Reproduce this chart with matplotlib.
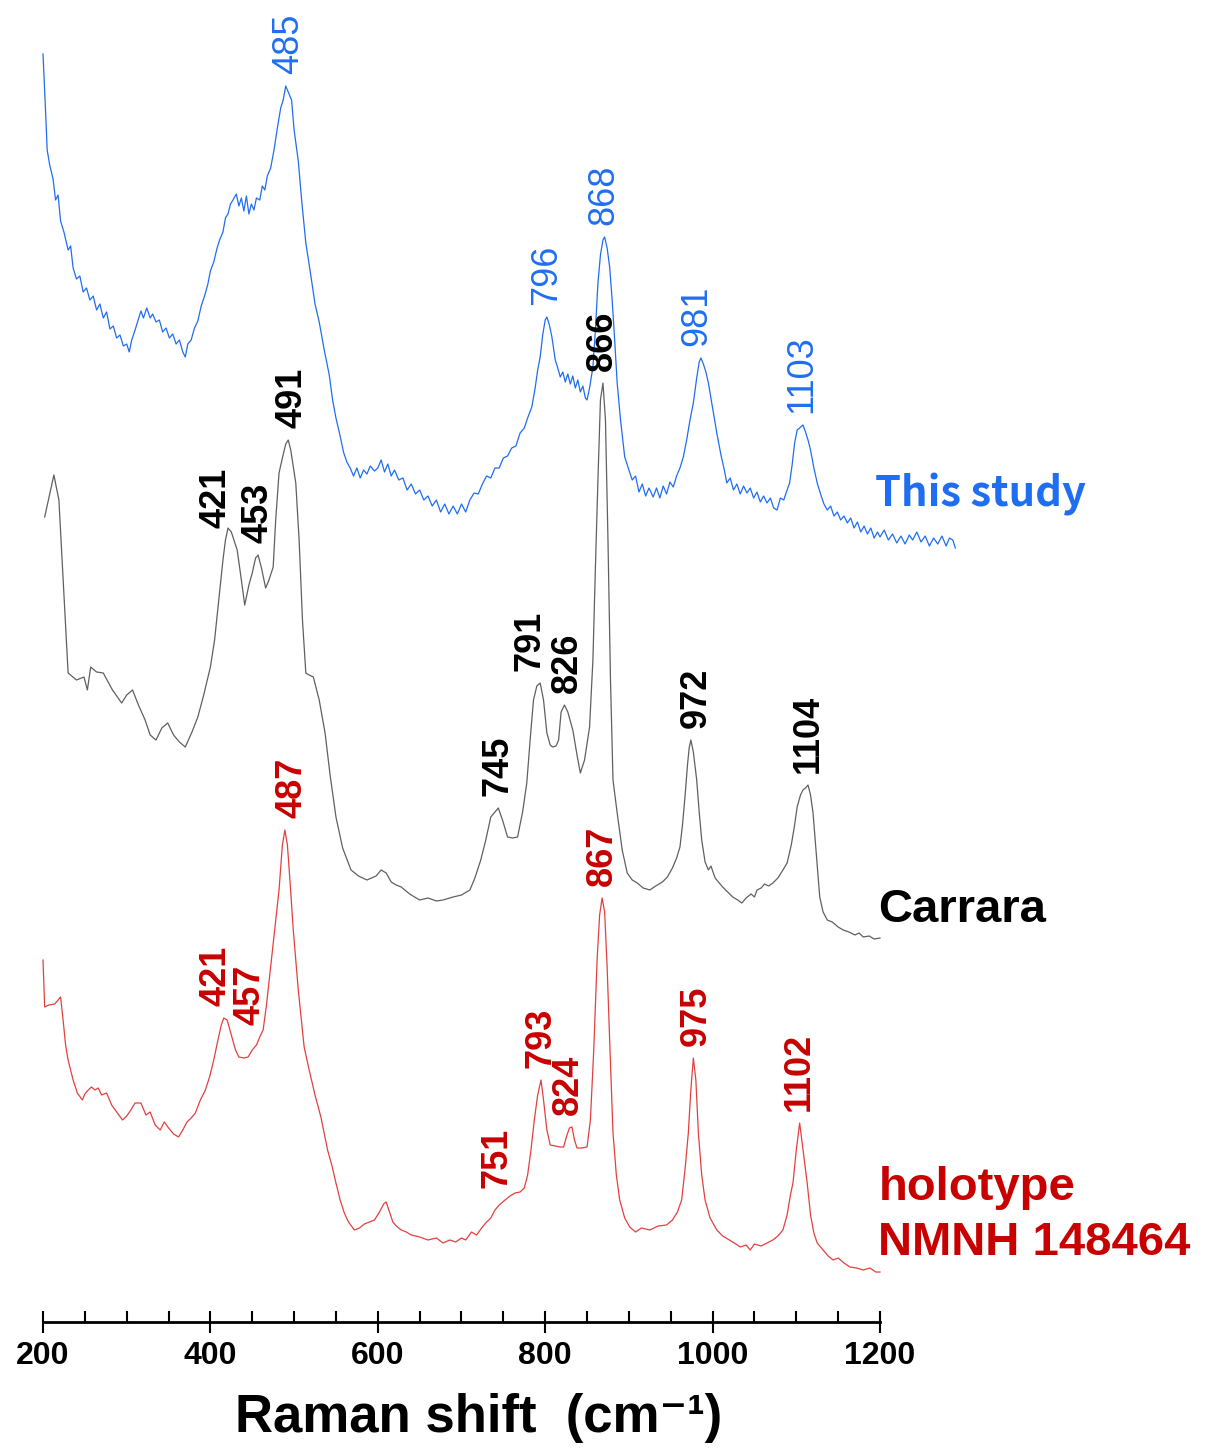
import matplotlib
matplotlib.use("Agg")
import matplotlib.pyplot as plt
from matplotlib.ticker import MultipleLocator

# ---- this study (blue) ----
blue_shift = [200, 203, 205, 208, 212, 215, 218, 221, 225, 230, 233, 236, 240, 244, 248, 252, 256, 260, 264, 268,
              272, 276, 280, 284, 288, 292, 296, 300, 303, 306, 310, 313, 317, 320, 324, 328, 331, 335, 339, 343,
              347, 351, 355, 359, 363, 367, 370, 373, 377, 381, 385, 389, 393, 397, 400, 404, 408, 411, 415, 418,
              421, 424, 427, 431, 434, 437, 440, 443, 446, 449, 452, 455, 459, 462, 465, 468, 472, 476, 480, 484,
              487, 490, 493, 497, 500, 505, 509, 514, 519, 525, 530, 536, 542, 546, 550, 555, 559, 563, 567, 571,
              575, 579, 583, 587, 591, 596, 600, 604, 608, 612, 616, 620, 625, 630, 635, 640, 645, 650, 655, 660,
              665, 670, 675, 680, 685, 690, 695, 700, 705, 710, 715, 720, 725, 730, 735, 740, 745, 750, 755, 760,
              765, 770, 775, 779, 784, 788, 791, 794, 797, 800, 802, 805, 808, 812, 815, 818, 821, 824, 827, 830,
              833, 836, 839, 842, 845, 848, 850, 853, 857, 860, 863, 866, 869, 871, 874, 877, 880, 883, 886, 890,
              895, 900, 904, 908, 912, 916, 920, 924, 929, 933, 937, 941, 945, 949, 953, 957, 961, 965, 969, 973,
              977, 981, 984, 986, 989, 992, 995, 1000, 1005, 1010, 1014, 1017, 1021, 1025, 1029, 1033, 1037, 1041,
              1045, 1049, 1053, 1057, 1061, 1065, 1069, 1073, 1077, 1081, 1085, 1089, 1092, 1095, 1098, 1101, 1104,
              1108, 1111, 1114, 1117, 1121, 1125, 1129, 1133, 1137, 1141, 1145, 1149, 1153, 1157, 1161, 1165, 1169,
              1173, 1177, 1181, 1185, 1189, 1193, 1197, 1200, 1205, 1210, 1215, 1220, 1225, 1230, 1235, 1239, 1244,
              1249, 1254, 1259, 1264, 1269, 1274, 1279, 1283, 1287, 1290]
blue_int = [506, 450, 410, 395, 381, 360, 365, 339, 328, 310, 314, 292, 281, 284, 268, 272, 260, 264, 250, 256,
            242, 248, 231, 234, 222, 225, 214, 216, 208, 220, 230, 238, 249, 242, 252, 242, 246, 238, 240, 228,
            232, 222, 226, 216, 220, 208, 203, 216, 220, 232, 239, 254, 264, 276, 289, 298, 312, 320, 328, 342,
            346, 356, 360, 366, 354, 362, 349, 364, 346, 356, 350, 362, 360, 374, 370, 384, 392, 410, 432, 452,
            460, 474, 468, 460, 430, 399, 360, 317, 290, 256, 238, 210, 185, 160, 142, 124, 108, 98, 92, 84,
            92, 82, 90, 86, 94, 89, 92, 100, 88, 96, 84, 90, 80, 82, 70, 76, 66, 70, 60, 64,
            54, 60, 48, 56, 46, 54, 46, 56, 48, 60, 67, 66, 76, 84, 82, 92, 92, 102, 104, 112,
            114, 127, 132, 142, 153, 172, 190, 203, 225, 240, 243, 235, 223, 200, 192, 183, 188, 178, 186, 176,
            184, 172, 180, 168, 174, 162, 160, 172, 193, 230, 277, 305, 320, 323, 312, 293, 260, 220, 177, 140,
            103, 90, 80, 84, 68, 76, 64, 72, 63, 72, 62, 74, 66, 78, 73, 84, 92, 103, 120, 140,
            157, 182, 198, 202, 196, 188, 177, 152, 127, 105, 90, 77, 82, 70, 76, 66, 74, 67,
            72, 62, 68, 58, 64, 57, 62, 52, 50, 62, 60, 70, 77, 95, 117, 130, 132,
            135, 128, 120, 110, 92, 77, 66, 56, 50, 54, 44, 48, 40, 44, 37, 42, 32,
            38, 28, 34, 26, 32, 22, 28, 23, 30, 20, 26, 17, 24, 16, 25, 20, 28,
            18, 24, 14, 22, 16, 24, 14, 22, 20, 12]
blue_labels = ["485", "796", "868", "981", "1103"]
blue_label_pos = [493, 802, 870, 981, 1107]

# ---- Carrara (grey) ----
carrara_shift = [202, 213, 219, 230, 240, 249, 253, 257, 264, 272, 283, 294, 300, 307, 314, 322, 328, 335, 342, 349,
                 356, 363, 370, 378, 385, 392, 400, 405, 410, 415, 418, 421, 425, 432, 437, 441, 446, 450, 454, 457,
                 461, 466, 470, 475, 478, 482, 486, 490, 493, 496, 502, 506, 510, 514, 518, 523, 530, 537, 543, 550,
                 558, 568, 577, 587, 598, 604, 610, 616, 622, 628, 638, 650, 660, 670, 678, 690, 700, 710, 716, 723,
                 729, 735, 740, 744, 749, 755, 761, 767, 773, 778, 782, 786, 790, 794, 798, 802, 806, 809, 813, 816,
                 819, 823, 827, 833, 838, 842, 847, 853, 857, 860, 863, 866, 869, 872, 875, 878, 881, 886, 892, 898,
                 904, 910, 917, 925, 932, 940, 946, 952, 957, 961, 964, 967, 970, 972, 974, 977, 981, 984, 987, 991,
                 995, 998, 1003, 1008, 1012, 1018, 1024, 1030, 1035, 1040, 1046, 1050, 1053, 1058, 1062, 1067, 1072,
                 1078, 1084, 1089, 1094, 1098, 1101, 1105, 1108, 1111, 1114, 1117, 1120, 1124, 1128, 1132, 1137,
                 1143, 1150, 1156, 1163, 1170, 1175, 1180, 1187, 1193, 1200]
carrara_int = [433, 475, 450, 277, 270, 273, 260, 283, 278, 277, 260, 247, 255, 260, 245, 230, 215, 210, 222, 227,
               215, 208, 203, 218, 233, 255, 283, 310, 350, 390, 410, 422, 418, 400, 370, 345, 365, 377, 392, 395,
               382, 362, 370, 383, 430, 477, 492, 506, 510, 500, 467, 410, 330, 277, 275, 273, 250, 217, 175, 133,
               102, 80, 74, 70, 74, 80, 77, 68, 65, 63, 56, 50, 52, 49, 50, 53, 55, 60, 72, 90,
               110, 133, 138, 142, 130, 113, 112, 113, 138, 167, 210, 250, 264, 267, 250, 217, 205, 203, 204, 210,
               238, 245, 238, 220, 195, 177, 190, 223, 290, 383, 470, 550, 567, 530, 410, 270, 170, 137, 100, 77,
               70, 67, 62, 60, 64, 68, 73, 82, 92, 103, 125, 153, 185, 202, 210, 198, 170, 138, 110, 88,
               80, 84, 72, 67, 63, 58, 53, 50, 47, 52, 56, 53, 60, 62, 66, 64, 67,
               72, 80, 87, 105, 125, 143, 155, 160, 162, 165, 155, 137, 95, 53, 38, 30,
               28, 23, 20, 18, 15, 17, 13, 14, 11, 12]
carrara_labels = ["421", "453", "491", "745", "791", "826", "866", "972", "1104"]
carrara_label_pos = [407, 457, 497, 744, 782, 826, 868, 980, 1114]

# ---- holotype NMNH 148464 (red) ----
holo_shift = [200, 202, 207, 214, 218, 221, 224, 227, 230, 236, 241, 247, 250, 254, 258, 262, 266, 270, 276, 282,
              288, 295, 300, 305, 310, 317, 323, 328, 334, 340, 345, 350, 356, 362, 367, 372, 377, 382, 388, 394,
              399, 404, 409, 413, 416, 420, 425, 430, 434, 440, 445, 450, 455, 459, 463, 467, 472, 477, 482, 486,
              489, 492, 495, 499, 505, 512, 518, 525, 532, 540, 545, 550, 555, 560, 565, 572, 578, 584, 590, 596,
              602, 607, 610, 614, 618, 622, 628, 634, 640, 650, 660, 670, 678, 686, 693, 700, 705, 712, 718, 724,
              730, 735, 740, 745, 752, 758, 764, 770, 775, 779, 783, 787, 791, 795, 798, 802, 806, 812, 818, 822,
              826, 829, 832, 835, 838, 844, 850, 854, 858, 862, 865, 868, 871, 874, 877, 881, 885, 889, 895, 901,
              908, 915, 925, 935, 945, 952, 958, 963, 967, 971, 974, 977, 980, 983, 987, 991, 997, 1005, 1012,
              1020, 1026, 1033, 1040, 1045, 1050, 1058, 1065, 1072, 1078, 1084, 1089, 1093, 1096, 1100, 1104,
              1108, 1113, 1117, 1121, 1125, 1132, 1138, 1144, 1150, 1157, 1164, 1172, 1180, 1188, 1195, 1200]
holo_int = [330, 283, 285, 286, 290, 293, 270, 245, 230, 210, 197, 190, 196, 200, 203, 200, 202, 195, 197, 185,
            178, 170, 174, 180, 187, 187, 175, 178, 165, 160, 168, 162, 156, 153, 160, 168, 172, 177, 190, 200,
            213, 230, 250, 265, 272, 270, 255, 240, 233, 232, 233, 240, 245, 253, 260, 285, 323, 360, 400, 445,
            460, 445, 410, 360, 300, 243, 220, 195, 173, 140, 125, 107, 90, 77, 68, 60, 62, 66, 68, 70,
            78, 86, 88, 78, 68, 64, 60, 58, 55, 53, 50, 52, 47, 50, 48, 52, 50, 58, 55, 62,
            68, 72, 80, 85, 90, 94, 97, 98, 102, 115, 140, 170, 195, 210, 190, 160, 145, 144, 143, 143,
            155, 162, 163, 150, 142, 142, 143, 170, 240, 330, 375, 392, 378, 323, 250, 157, 115, 90, 72, 63,
            58, 62, 60, 64, 65, 70, 78, 90, 120, 157, 200, 232, 210, 157, 115, 90, 72, 60, 54,
            50, 47, 43, 45, 40, 46, 44, 47, 50, 54, 60, 75, 95, 107, 140, 167,
            140, 107, 75, 57, 47, 40, 34, 30, 32, 27, 23, 22, 20, 22, 18, 18]
holo_labels = ["421", "457", "487", "751", "793", "824", "867", "975", "1102"]
holo_label_pos = [407, 447, 497, 742, 795, 828, 868, 980, 1104]

# vertical stacking of the three spectra
offset_blue = 762
offset_carrara = 372
offset_holo = 32

blue_c = "#1f6ef2"
grey_c = "#606060"
red_line_c = "#e3403f"
red_txt_c = "#c80000"

fig_w, fig_h = 1212, 1451
fig = plt.figure(figsize=(fig_w / 100, fig_h / 100), dpi=100)
ax = fig.add_axes([43 / fig_w, 129 / fig_h, 837 / fig_w, 1322 / fig_h])


def draw_spectrum(shift, inten, offset, line_color, labels, label_pos, label_color, weight):
    y = [v + offset for v in inten]
    ax.plot(shift, y, color=line_color, lw=0.9, clip_on=False)
    for txt, pos in zip(labels, label_pos):
        near = [v for s, v in zip(shift, y) if abs(s - pos) <= 12]
        ax.text(pos, max(near) + 12, txt, rotation=90, ha="center", va="bottom",
                fontsize=26, color=label_color, fontweight=weight, family="Liberation Sans")


draw_spectrum(blue_shift, blue_int, offset_blue, blue_c, blue_labels, blue_label_pos, blue_c, "normal")
draw_spectrum(carrara_shift, carrara_int, offset_carrara, grey_c, carrara_labels, carrara_label_pos, "black", "bold")
draw_spectrum(holo_shift, holo_int, offset_holo, red_line_c, holo_labels, holo_label_pos, red_txt_c, "bold")

# sample names
ax.text(1194, 827, "This study", color=blue_c, fontsize=30, fontweight="bold",
        family="Noto Sans CJK JP", ha="left", va="center", clip_on=False)
ax.text(1198, 412, "Carrara", color="black", fontsize=34, fontweight="bold",
        family="Liberation Sans", ha="left", va="center", clip_on=False)
ax.text(1198, 134, "holotype", color=red_txt_c, fontsize=34, fontweight="bold",
        family="Liberation Sans", ha="left", va="center", clip_on=False)
ax.text(1198, 79, "NMNH 148464", color=red_txt_c, fontsize=34, fontweight="bold",
        family="Liberation Sans", ha="left", va="center", clip_on=False)

ax.set_xlim(200, 1200)
ax.set_ylim(0, 1322)
for side in ["left", "right", "top"]:
    ax.spines[side].set_visible(False)
ax.spines["bottom"].set_linewidth(2)
ax.set_yticks([])
ax.xaxis.set_major_locator(MultipleLocator(200))
ax.xaxis.set_minor_locator(MultipleLocator(50))
ax.tick_params(axis="x", which="major", direction="inout", length=16, width=1.5, pad=6,
               labelsize=23)
ax.tick_params(axis="x", which="minor", direction="in", length=8, width=1.5)
for lab in ax.get_xticklabels():
    lab.set_fontweight("bold")
    lab.set_family("Liberation Sans")

ax.set_xlabel("Raman shift  (cm\u207b\u00b9)", fontsize=38, fontweight="bold",
              family=["Liberation Sans", "DejaVu Sans"])
ax.xaxis.set_label_coords((479 - 43) / 837, -0.054)
ax.xaxis.label.set_va("top")

fig.savefig("out.png", dpi=100)
